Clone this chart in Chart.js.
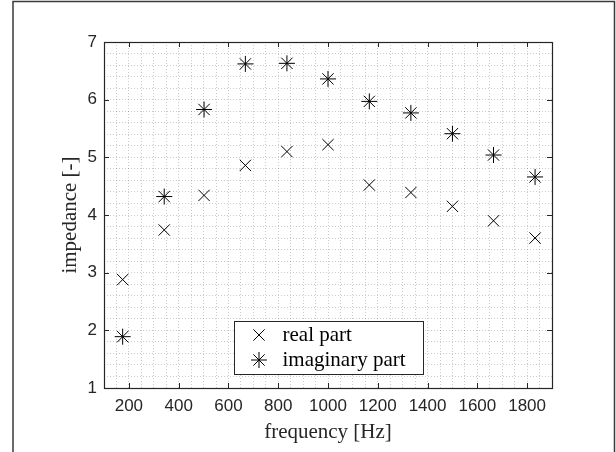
<!DOCTYPE html>
<html>
<head>
<meta charset="utf-8">
<script src="https://cdn.jsdelivr.net/npm/chart.js@4/dist/chart.umd.min.js"></script>
<style>
  html, body { margin: 0; padding: 0; background: #ffffff; }
  #c { display: block; }
</style>
</head>
<body>
<canvas id="c" width="616" height="452"></canvas>
<script>
// ---- data ----
const frequency = [175, 342, 502, 668, 835, 1000, 1166, 1333, 1500, 1665, 1832];
const realPart = [2.88, 3.74, 4.34, 4.86, 5.10, 5.22, 4.52, 4.39, 4.15, 3.90, 3.60];
const imagPart = [1.89, 4.32, 5.83, 6.62, 6.63, 6.36, 5.97, 5.77, 5.41, 5.04, 4.66];
const seriesLabels = ['real part', 'imaginary part'];
const xTickLabels = [200, 400, 600, 800, 1000, 1200, 1400, 1600, 1800];
const yTickLabels = [1, 2, 3, 4, 5, 6, 7];
const xTitle = 'frequency [Hz]';
const yTitle = 'impedance [-]';

const AXIS = '#262626';
const GRID = 'rgba(38,38,38,0.24)';
const SANS = '"Liberation Sans", Arial, sans-serif';
const SERIF = '"Liberation Serif", "Times New Roman", serif';

function toPoints(xs, ys) { return xs.map((x, i) => ({ x: x, y: ys[i] })); }
function isMajor(v, list) { return list.some(t => Math.abs(t - v) < 1e-6); }

// outer figure border (partial, as in reference)
const figureBorder = {
  id: 'figureBorder',
  beforeDraw(chart) {
    const ctx = chart.ctx;
    ctx.save();
    ctx.strokeStyle = '#3a3a3a';
    ctx.lineWidth = 1.5;
    ctx.beginPath();
    ctx.moveTo(13, 452);
    ctx.lineTo(13, 1.5);
    ctx.lineTo(614.5, 1.5);
    ctx.lineTo(614.5, 452);
    ctx.stroke();
    ctx.restore();
  }
};

// box frame + inward ticks on all sides (MATLAB style)
const frameTicks = {
  id: 'frameTicks',
  afterDatasetsDraw(chart) {
    const ctx = chart.ctx;
    const a = chart.chartArea;
    const xs = chart.scales.x, ys = chart.scales.y;
    const L = 5;
    ctx.save();
    ctx.strokeStyle = AXIS;
    ctx.lineWidth = 1;
    ctx.beginPath();
    xTickLabels.forEach(v => {
      const px = Math.round(xs.getPixelForValue(v)) + 0.5;
      ctx.moveTo(px, a.bottom); ctx.lineTo(px, a.bottom - L);
      ctx.moveTo(px, a.top); ctx.lineTo(px, a.top + L);
    });
    yTickLabels.forEach(v => {
      const py = Math.round(ys.getPixelForValue(v)) + 0.5;
      ctx.moveTo(a.left, py); ctx.lineTo(a.left + L, py);
      ctx.moveTo(a.right, py); ctx.lineTo(a.right - L, py);
    });
    ctx.stroke();
    ctx.lineWidth = 1.2;
    ctx.strokeRect(Math.round(a.left) + 0.5, Math.round(a.top) + 0.5,
                   Math.round(a.right - a.left), Math.round(a.bottom - a.top));
    ctx.restore();
  }
};

// legend box inside the axes (south)
const insideLegend = {
  id: 'insideLegend',
  afterDraw(chart) {
    const ctx = chart.ctx;
    const x0 = 234.5, y0 = 321.5, w = 189, h = 53;
    ctx.save();
    ctx.fillStyle = '#ffffff';
    ctx.fillRect(x0, y0, w, h);
    ctx.strokeStyle = AXIS;
    ctx.lineWidth = 1;
    ctx.strokeRect(x0, y0, w, h);
    chart.data.datasets.forEach((ds, i) => {
      const cy = 335 + i * 25;
      const opts = { pointStyle: ds.pointStyle, radius: ds.pointRadius, borderWidth: ds.pointBorderWidth, rotation: 0 };
      ctx.strokeStyle = ds.borderColor;
      ctx.fillStyle = ds.borderColor;
      ctx.lineWidth = ds.pointBorderWidth;
      Chart.helpers.drawPoint(ctx, opts, 259, cy);
      ctx.fillStyle = '#000';
      ctx.font = '21px ' + SERIF;
      ctx.textBaseline = 'middle';
      ctx.textAlign = 'left';
      ctx.fillText(ds.label, 282.5, cy);
    });
    ctx.restore();
  }
};

new Chart(document.getElementById('c'), {
  type: 'scatter',
  data: {
    datasets: [
      {
        label: seriesLabels[0],
        data: toPoints(frequency, realPart),
        pointStyle: 'crossRot',
        pointRadius: 8,
        pointHoverRadius: 8,
        pointBorderWidth: 1,
        borderColor: '#000000',
        backgroundColor: '#000000'
      },
      {
        label: seriesLabels[1],
        data: toPoints(frequency, imagPart),
        pointStyle: 'star',
        pointRadius: 8,
        pointHoverRadius: 8,
        pointBorderWidth: 1,
        borderColor: '#000000',
        backgroundColor: '#000000'
      }
    ]
  },
  options: {
    responsive: false,
    animation: false,
    events: [],
    layout: { padding: { left: 0, top: 42, right: 64, bottom: 0 } },
    plugins: { legend: { display: false }, tooltip: { enabled: false } },
    scales: {
      x: {
        type: 'linear',
        min: 100, max: 1900,
        afterFit(s) { s.height = 64; },
        border: { display: false, dash: [1, 2] },
        grid: { color: GRID, lineWidth: 1, drawTicks: false },
        ticks: {
          stepSize: 50, autoSkip: false, maxRotation: 0, padding: 8,
          color: AXIS, font: { family: SANS, size: 17 },
          callback: v => isMajor(v, xTickLabels) ? String(v) : ''
        },
        title: { display: true, text: xTitle, color: '#262626', font: { family: SERIF, size: 21 }, padding: { top: 0, bottom: 7 } }
      },
      y: {
        type: 'linear',
        min: 1, max: 7,
        afterFit(s) { s.width = 104; },
        border: { display: false, dash: [1, 2] },
        grid: { color: GRID, lineWidth: 1, drawTicks: false },
        ticks: {
          stepSize: 0.2, autoSkip: false, padding: 7,
          color: AXIS, font: { family: SANS, size: 17 },
          callback: v => isMajor(v, yTickLabels) ? String(Math.round(v)) : ''
        },
        title: { display: true, text: yTitle, color: '#262626', font: { family: SERIF, size: 21 }, padding: { top: 58, bottom: 0 } }
      }
    }
  },
  plugins: [figureBorder, frameTicks, insideLegend]
});
</script>
</body>
</html>
